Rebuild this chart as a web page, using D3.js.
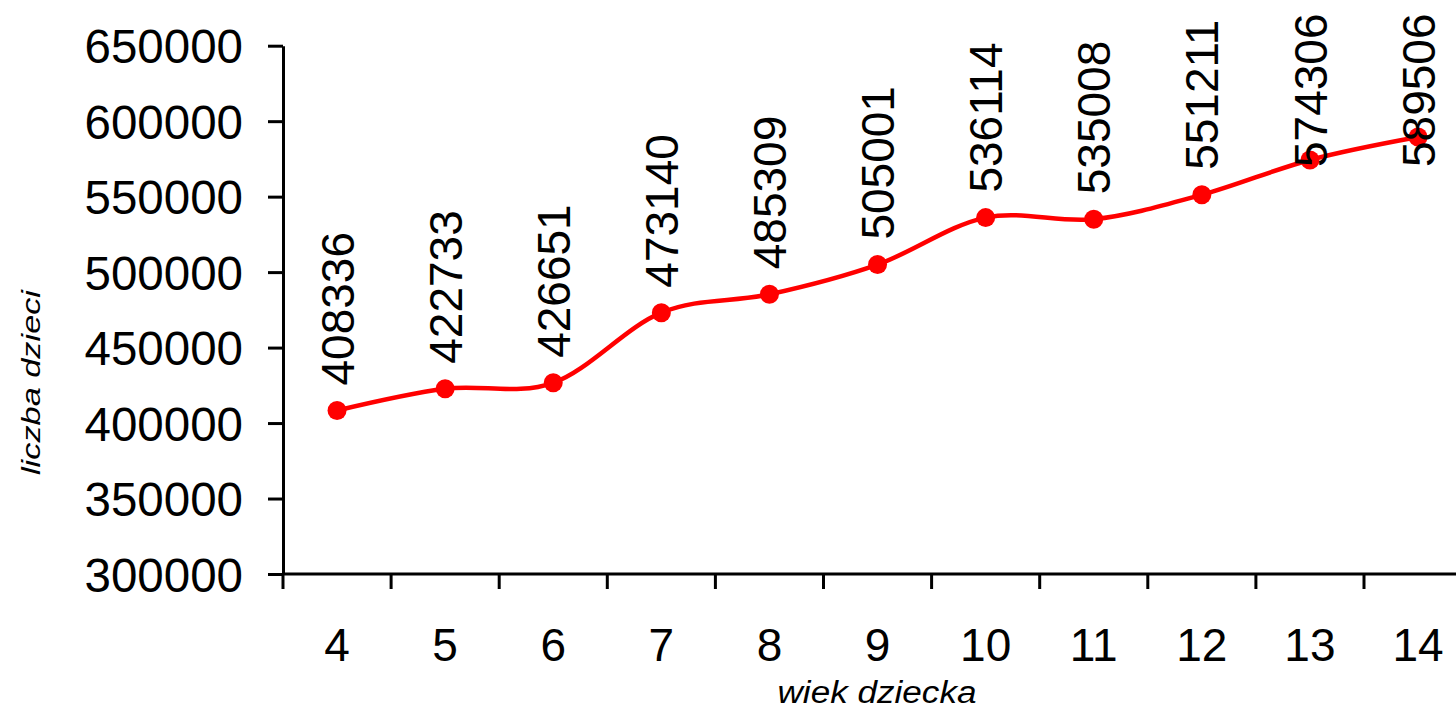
<!DOCTYPE html>
<html>
<head>
<meta charset="utf-8">
<script src="https://cdn.jsdelivr.net/npm/d3@7"></script>
<style>
  html, body { margin: 0; padding: 0; background: #fff; }
  svg { display: block; font-family: "Liberation Sans", Arial, sans-serif; }
</style>
</head>
<body>
<svg id="chart" width="1456" height="706"></svg>
<script>
// Children by age: number of children for each year of age
const ages = ["4", "5", "6", "7", "8", "9", "10", "11", "12", "13", "14"];
const counts = [408336, 422733, 426651, 473140, 485309, 505001, 536114, 535008, 551211, 574306, 589506];
const yTicks = [300000, 350000, 400000, 450000, 500000, 550000, 600000, 650000];
const xTitle = "wiek dziecka";
const yTitle = "liczba dzieci";

const svg = d3.select("#chart");

// plot frame
const plotLeft = 283, bandW = 108.1, plotTop = 45.7, plotBottom = 574;
const red = "#ff0000";

const x = d3.scaleBand().domain(ages).range([plotLeft, plotLeft + bandW * ages.length]).padding(0);
const y = d3.scaleLinear().domain([300000, 650000]).range([plotBottom, plotTop]);

// y axis
const yAxis = svg.append("g")
  .attr("transform", `translate(${plotLeft},0)`)
  .call(d3.axisLeft(y).tickValues(yTicks).tickSize(15).tickSizeOuter(0).tickFormat(d3.format("d")));
yAxis.select(".domain").attr("stroke", "#000").attr("stroke-width", 3);
yAxis.selectAll(".tick line").attr("stroke", "#000").attr("stroke-width", 3);
yAxis.selectAll(".tick text")
  .attr("x", -40)
  .attr("dy", "0.36em")
  .attr("font-size", 47.5)
  .attr("font-family", "Liberation Sans, Arial, sans-serif")
  .attr("fill", "#000");

// x axis: line with ticks on the category boundaries
const xg = svg.append("g");
xg.append("line")
  .attr("x1", plotLeft).attr("x2", x.range()[1])
  .attr("y1", plotBottom).attr("y2", plotBottom)
  .attr("stroke", "#000").attr("stroke-width", 3);
const boundaries = ages.map(a => x(a)).concat([x.range()[1]]);
xg.selectAll("line.tick").data(boundaries).join("line")
  .attr("class", "tick")
  .attr("x1", d => d).attr("x2", d => d)
  .attr("y1", plotBottom).attr("y2", plotBottom + 15)
  .attr("stroke", "#000").attr("stroke-width", 3);
xg.selectAll("text").data(ages).join("text")
  .attr("x", d => x(d) + x.bandwidth() / 2)
  .attr("y", 660.5)
  .attr("text-anchor", "middle")
  .attr("font-size", 46)
  .attr("fill", "#000")
  .text(d => d);

// axis titles
svg.append("text")
  .attr("x", 877).attr("y", 702.5)
  .attr("text-anchor", "middle")
  .attr("font-size", 31)
  .attr("font-style", "italic")
  .attr("textLength", 199)
  .attr("lengthAdjust", "spacingAndGlyphs")
  .text(xTitle);

svg.append("text")
  .attr("transform", "translate(39.5,382.5) rotate(-90)")
  .attr("text-anchor", "middle")
  .attr("font-size", 25)
  .attr("font-style", "italic")
  .attr("textLength", 185)
  .attr("lengthAdjust", "spacingAndGlyphs")
  .text(yTitle);

// data series
const pts = ages.map((a, i) => ({ a, v: counts[i], px: x(a) + x.bandwidth() / 2, py: y(counts[i]) }));

const line = d3.line()
  .x(d => d.px)
  .y(d => d.py)
  .curve(d3.curveCardinal.tension(0));

svg.append("path")
  .datum(pts)
  .attr("d", line)
  .attr("fill", "none")
  .attr("stroke", red)
  .attr("stroke-width", 4.5)
  .attr("stroke-linejoin", "round");

svg.selectAll("circle.pt").data(pts).join("circle")
  .attr("class", "pt")
  .attr("cx", d => d.px)
  .attr("cy", d => d.py)
  .attr("r", 9.5)
  .attr("fill", red);

// value labels, rotated, kept inside the top of the chart
svg.selectAll("text.val").data(pts).join("text")
  .attr("class", "val")
  .attr("transform", d => `translate(${d.px},${Math.max(d.py - 25, 167)}) rotate(-90)`)
  .attr("dy", "0.36em")
  .attr("font-size", 46)
  .attr("fill", "#000")
  .text(d => d.v);
</script>
</body>
</html>
